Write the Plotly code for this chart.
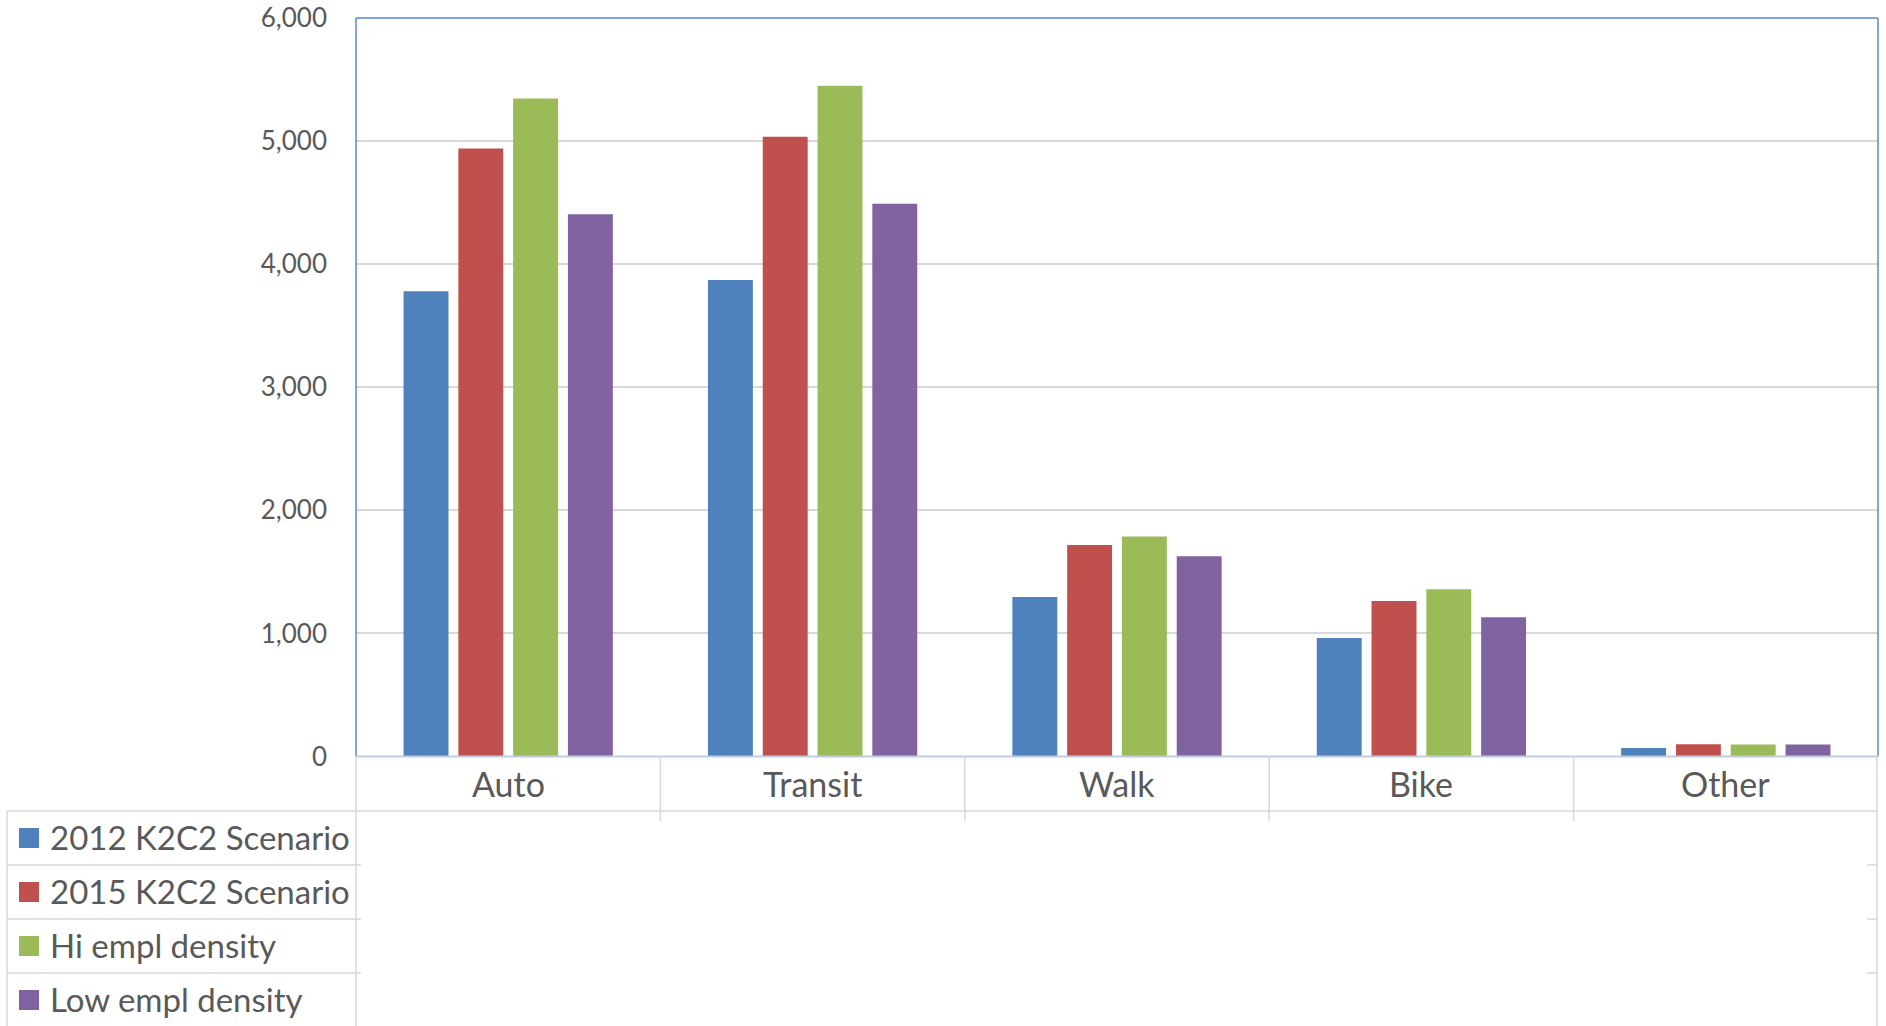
import plotly.graph_objects as go

# Trip counts by mode for each scenario
categories = ["Auto", "Transit", "Walk", "Bike", "Other"]
series_names = ["2012 K2C2 Scenario", "2015 K2C2 Scenario", "Hi empl density", "Low empl density"]
vals_2012 = [3780, 3872, 1295, 962, 70]
vals_2015 = [4940, 5036, 1718, 1263, 100]
vals_hi = [5346, 5450, 1787, 1358, 98]
vals_low = [4406, 4490, 1626, 1131, 98]
y_ticks = [0, 1000, 2000, 3000, 4000, 5000, 6000]

colors = ["#4f81bd", "#c0504d", "#9bbb59", "#8064a2"]
W, H = 1886, 1026
FONT = "Lato"
TEXT = "#595959"
GRID = "#d9d9d9"
TABLE = "#d9d9d9"
FRAME = "#5b88c3"

# plot area in pixels
PL, PR, PT, PB = 356, 1878, 18, 756.5
ROW_TOP = 811          # bottom of category-label row
ROW_H = 54             # legend table row height
LEG_L = 7


def px(x):
    return x / W


def py(y):
    return (H - y) / H


fig = go.Figure()
for name, vals, c in zip(series_names, [vals_2012, vals_2015, vals_hi, vals_low], colors):
    fig.add_trace(go.Bar(x=categories, y=vals, name=name, marker=dict(color=c, line=dict(width=0)),
                         showlegend=False))

shapes = []
# plot frame (left, top, right)
shapes.append(dict(type="line", xref="paper", yref="paper", x0=px(PL), x1=px(PL), y0=py(PB), y1=py(PT),
                   line=dict(color=FRAME, width=1.5)))
shapes.append(dict(type="line", xref="paper", yref="paper", x0=px(PL), x1=px(PR), y0=py(PT), y1=py(PT),
                   line=dict(color=FRAME, width=1.5)))
shapes.append(dict(type="line", xref="paper", yref="paper", x0=px(PR), x1=px(PR), y0=py(PB), y1=py(PT),
                   line=dict(color=FRAME, width=1.5)))
# zero line
shapes.append(dict(type="line", xref="paper", yref="paper", x0=px(PL), x1=px(PR), y0=py(PB), y1=py(PB),
                   line=dict(color="#bfcde0", width=2)))
# category dividers below the axis
for b in [0.5, 1.5, 2.5, 3.5]:
    shapes.append(dict(type="line", xref="x", yref="paper", x0=b, x1=b, y0=py(PB), y1=py(ROW_TOP + 10),
                       line=dict(color=TABLE, width=1.5)))
# outer verticals of the table
shapes.append(dict(type="line", xref="paper", yref="paper", x0=px(PL), x1=px(PL), y0=py(PB), y1=0,
                   line=dict(color=TABLE, width=1.5)))
shapes.append(dict(type="line", xref="paper", yref="paper", x0=px(PR - 1), x1=px(PR - 1), y0=py(PB), y1=0,
                   line=dict(color=TABLE, width=1.5)))
shapes.append(dict(type="line", xref="paper", yref="paper", x0=px(LEG_L), x1=px(LEG_L), y0=py(ROW_TOP), y1=0,
                   line=dict(color=TABLE, width=1.5)))
# top of the legend table
shapes.append(dict(type="line", xref="paper", yref="paper", x0=px(LEG_L), x1=px(PR), y0=py(ROW_TOP), y1=py(ROW_TOP),
                   line=dict(color=TABLE, width=1.5)))
# row separators and swatches
annotations = []
for i, (name, c) in enumerate(zip(series_names, colors)):
    top = ROW_TOP + i * ROW_H
    mid = top + ROW_H / 2
    if i > 0:
        shapes.append(dict(type="line", xref="paper", yref="paper", x0=px(LEG_L), x1=px(PL + 5),
                           y0=py(top), y1=py(top), line=dict(color=TABLE, width=1.5)))
        shapes.append(dict(type="line", xref="paper", yref="paper", x0=px(PR - 11), x1=px(PR),
                           y0=py(top), y1=py(top), line=dict(color=TABLE, width=1.5)))
    shapes.append(dict(type="rect", xref="paper", yref="paper", x0=px(19), x1=px(39),
                       y0=py(mid + 10), y1=py(mid - 10), line=dict(width=0), fillcolor=c))
    annotations.append(dict(text=name, xref="paper", yref="paper", x=px(48), y=py(mid - 1.5),
                            xanchor="left", yanchor="middle", showarrow=False,
                            font=dict(family=FONT, size=33, color=TEXT)))

for cat in categories:
    annotations.append(dict(text=cat, xref="x", yref="paper", x=cat, y=py((PB + ROW_TOP) / 2),
                            xanchor="center", yanchor="middle", showarrow=False,
                            font=dict(family=FONT, size=34, color=TEXT)))

fig.update_layout(
    template="none",
    width=W, height=H, autosize=False,
    margin=dict(l=0, r=0, t=0, b=0, pad=0),
    paper_bgcolor="white", plot_bgcolor="white",
    barmode="group", bargap=0.28, bargroupgap=0.18,
    xaxis=dict(domain=[px(PL), px(PR)], range=[-0.5, 4.5], showticklabels=False, automargin=False,
               showgrid=False, zeroline=False, showline=False, ticks=""),
    yaxis=dict(domain=[py(PB), py(PT)], range=[0, 6000], tickvals=y_ticks, tickformat=",",
               automargin=False,
               showgrid=True, gridcolor=GRID, gridwidth=1.5, zeroline=False, showline=False,
               ticks="", ticklabelstandoff=28,
               tickfont=dict(family=FONT, size=26, color=TEXT)),
    shapes=shapes, annotations=annotations,
)

fig.write_html("out.html")
